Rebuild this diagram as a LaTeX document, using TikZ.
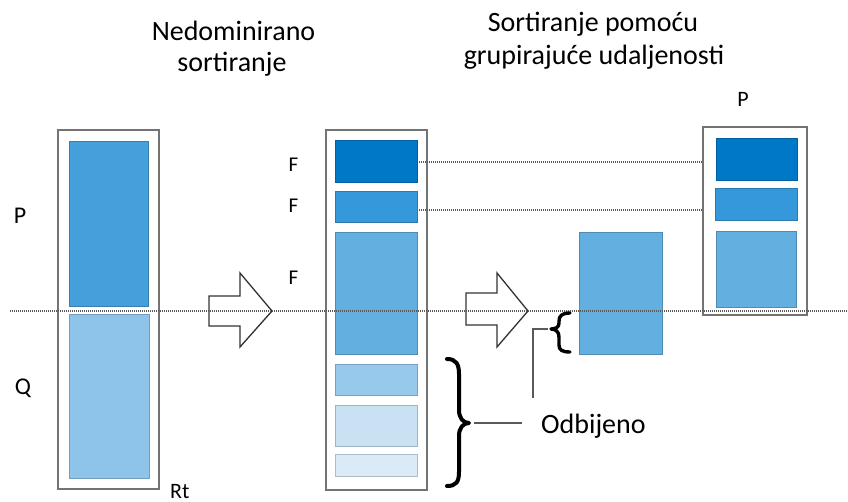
\documentclass[tikz,border=0pt]{standalone}
\usepackage{fontspec}
\setmainfont{Carlito}
\definecolor{c1}{HTML}{0078C8}
\definecolor{c2}{HTML}{3498DA}
\definecolor{c3}{HTML}{63AFE0}
\definecolor{c4}{HTML}{96C9EC}
\definecolor{c5}{HTML}{C8E2F4}
\definecolor{c6}{HTML}{DAEBF7}
\definecolor{lt}{HTML}{449FDB}
\definecolor{lb}{HTML}{8EC4EA}
\begin{document}
\begin{tikzpicture}[x=1pt,y=-1pt,
  outerbox/.style={draw=black!55,line width=1.6pt,fill=white,inner sep=0pt},
  blk/.style={draw=#1!80!black,fill=#1,line width=0.8pt,inner sep=0pt},
  blockarrow/.style={draw=black!80,line width=1.3pt,fill=white,line join=miter},
  dotline/.style={draw=black!65,line width=1.3pt,dash pattern=on 1.2pt off 0.8pt},
  bracepath/.style={draw=black,line width=4pt,line cap=round,line join=round},
  leader/.style={draw=black!65,line width=1.4pt},
  title/.style={font=\fontsize{28}{33}\selectfont,anchor=base,inner sep=0pt},
  lbl/.style={font=\fontsize{24}{28}\selectfont,anchor=base,inner sep=0pt},
  flbl/.style={font=\fontsize{21}{24}\selectfont,anchor=base,inner sep=0pt}]
\useasboundingbox (0,0) rectangle (848,502);

% titles
\node[title] (t1a) at (233.5,41) {Nedominirano};
\node[title] (t1b) at (232,72) {sortiranje};
\node[title] (t2a) at (593,32) {Sortiranje pomoću};
\node[title] (t2b) at (594,65) {grupirajuće udaljenosti};

% left column
\node[outerbox,minimum width=101pt,minimum height=359pt] (Lout) at (108.5,309.5) {};
\node[blk=lt,minimum width=79pt,minimum height=165pt] (L1) at (108.5,223.5) {};
\node[blk=lb,minimum width=80pt,minimum height=164pt] (L2) at (109,396) {};

% middle column
\node[outerbox,minimum width=101pt,minimum height=360pt] (Mout) at (376.5,310) {};
\node[blk=c1,minimum width=82pt,minimum height=42pt] (M1) at (376,161) {};
\node[blk=c2,minimum width=82pt,minimum height=31pt] (M2) at (376,206.5) {};
\node[blk=c3,minimum width=82pt,minimum height=122pt] (M3) at (376,293) {};
\node[blk=c4,minimum width=82pt,minimum height=31pt] (M4) at (376,379.5) {};
\node[blk=c5,minimum width=82pt,minimum height=41pt] (M5) at (376,425.5) {};
\node[blk=c6,minimum width=82pt,minimum height=22pt] (M6) at (376,465) {};

% floating box
\node[blk=c3,minimum width=83pt,minimum height=122pt] (Fl) at (620.5,293) {};

% right column
\node[outerbox,minimum width=104pt,minimum height=188pt] (Rout) at (755,221) {};
\node[blk=c1,minimum width=81pt,minimum height=42pt] (R1) at (756.5,159) {};
\node[blk=c2,minimum width=82pt,minimum height=32pt] (R2) at (756,204) {};
\node[blk=c3,minimum width=80pt,minimum height=76pt] (R3) at (756,269) {};

% block arrows
\draw[blockarrow] (209,296) -- (240,296) -- (240,273) -- (272,311) -- (240,347) -- (240,326) -- (209,326) -- cycle;
\draw[blockarrow] (466,293) -- (497,293) -- (497,273) -- (528,311) -- (497,347) -- (497,325) -- (466,325) -- cycle;

% dotted lines
\coordinate (d0) at (10,311);
\coordinate (d1) at (848,311);
\draw[dotline] (d0) -- (d1);
\coordinate (h1a) at (419,162);
\coordinate (h2a) at (419,210);
\draw[dotline] (h1a) -- (h1a -| Rout.west);
\draw[dotline] (h2a) -- (h2a -| Rout.west);

% big brace
\draw[bracepath] (447,359) .. controls (456,359) and (459,364) .. (459,374) -- (459,410)
  .. controls (459,418) and (463,423) .. (469,423)
  .. controls (463,423) and (459,428) .. (459,436) -- (459,472)
  .. controls (459,482) and (456,486) .. (447,486);
\coordinate (bt) at (474,423);
\coordinate (bte) at (522,423);
\draw[leader] (bt) -- (bte);

% small brace
\draw[bracepath,line width=3.4pt] (570,313) .. controls (562,313) and (559,316) .. (559,321) -- (559,323)
  .. controls (559,327) and (556,329) .. (551,329)
  .. controls (556,329) and (559,332) .. (559,337) -- (559,345)
  .. controls (559,350) and (562,352) .. (570,352);
\coordinate (st) at (548,329);
\coordinate (sc) at (533,329);
\coordinate (se) at (533,398);
\draw[leader] (st) -- (sc) -- (se);

% labels
\node[lbl] (P) at (20,224) {P};
\node[lbl] (Q) at (23,394) {Q};
\node[flbl] (F1) at (293.5,172) {F};
\node[flbl] (F2) at (293.5,213) {F};
\node[flbl] (F3) at (293.5,285) {F};
\node[font=\fontsize{22}{26}\selectfont,anchor=base,inner sep=0pt] (P2) at (743,107) {P};
\node[font=\fontsize{22}{26}\selectfont,anchor=base west,inner sep=0pt] (Rt) at (170,498) {Rt};
\node[title,anchor=base west] (odb) at (541,433) {Odbijeno};
\end{tikzpicture}
\end{document}
